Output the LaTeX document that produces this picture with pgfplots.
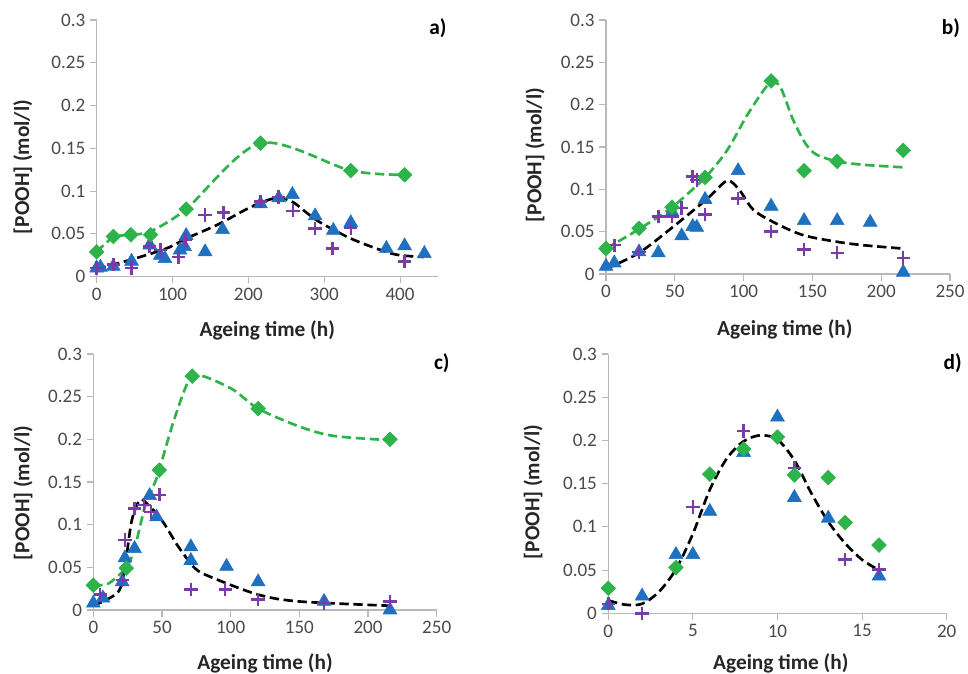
\documentclass[border=0pt]{standalone}
\usepackage{fontspec}
\setmainfont{Carlito}
\usepackage{pgfplots}
\pgfplotsset{compat=1.18}
\definecolor{gr}{HTML}{2DB34A}
\definecolor{bl}{HTML}{1F70C1}
\definecolor{pu}{HTML}{7A3BA8}
\definecolor{axc}{HTML}{B8B8B8}
\definecolor{tl}{HTML}{4A4A4A}
\pgfplotsset{
 panel/.style={
  scale only axis,
  axis x line=bottom, axis y line=left,
  axis line style={axc, line width=1pt, -},
  ymin=0, ymax=0.3, ytick={0,0.05,0.1,0.15,0.2,0.25,0.3},
  tick align=outside, major tick length=5pt, tick style={axc, line width=0.8pt},
  yticklabel style={/pgf/number format/fixed, /pgf/number format/precision=2},
  /pgf/number format/assume math mode=true,
  ticklabel style={font=\fontsize{14.3}{16}\selectfont, text=tl},
  label style={font=\bfseries\fontsize{16}{18}\selectfont, text=black!85},
  xlabel={Ageing time (h)}, ylabel={[POOH] (mol/l)},
  clip=false,
 },
 bluemk/.style={only marks, mark=triangle*, mark size=6pt, color=bl},
 purmk/.style={only marks, mark=+, mark size=5pt, color=pu, mark options={line width=1.9pt}},
 grmk/.style={only marks, mark=square*, mark size=3.9pt, color=gr, mark options={rotate=45}},
 grline/.style={no marks, smooth, gr, line width=2pt, dash pattern=on 7pt off 3.5pt},
 bkline/.style={no marks, smooth, black, line width=2pt, dash pattern=on 7pt off 3.5pt},
}
\begin{document}
\begin{tikzpicture}
\useasboundingbox (0,0) rectangle (726pt,505.5pt);
% ---------------- a)
\begin{axis}[panel, at={(72.5pt,298pt)}, anchor=south west, width=256pt, height=192.5pt,
  xmin=0, xmax=450, xtick={0,100,200,300,400},
  xlabel style={at={(axis description cs:0.5,-0.208)}, anchor=center},
  ylabel style={at={(axis description cs:-0.216,0.427)}, anchor=center}]
\addplot[bluemk] coordinates {(0,0.010)(5,0.011)(22,0.012)(46,0.018)(70,0.037)(84,0.025)(90,0.021)(110,0.031)(116,0.035)(118,0.048)(143,0.029)(166,0.055)(216,0.085)(240,0.092)(258,0.096)(288,0.071)(312,0.054)(335,0.063)(382,0.033)(406,0.036)(432,0.027)};
\addplot[purmk] coordinates {(0,0.010)(22,0.014)(46,0.010)(70,0.035)(84,0.031)(108,0.023)(117,0.043)(143,0.072)(167,0.075)(216,0.088)(240,0.093)(259,0.077)(288,0.056)(311,0.033)(335,0.057)(406,0.018)};
\addplot[grmk] coordinates {(0,0.029)(22,0.047)(45,0.049)(71,0.049)(118,0.079)(216,0.156)(335,0.124)(406,0.119)};
\addplot[grline] coordinates {(0,0.029)(22,0.046)(45,0.049)(71,0.053)(118,0.079)(216,0.156)(335,0.124)(406,0.119)};
\addplot[bkline] coordinates {(0,0.009)(44,0.0195)(92,0.033)(119,0.045)(160,0.061)(200,0.080)(224,0.089)(240,0.092)(259,0.087)(290,0.066)(334,0.045)(378,0.030)(400,0.025)(431,0.023)};
\node[font=\bfseries\fontsize{16}{18}\selectfont] at (axis description cs:1.0,0.968) {a)};
\end{axis}
% ---------------- b)
\begin{axis}[panel, at={(454.5pt,300pt)}, anchor=south west, width=258pt, height=190.5pt,
  xmin=0, xmax=250, xtick={0,50,100,150,200,250},
  xlabel style={at={(axis description cs:0.52,-0.22)}, anchor=center},
  ylabel style={at={(axis description cs:-0.206,0.468)}, anchor=center}]
\addplot[bluemk] coordinates {(0,0.009)(6,0.013)(24,0.026)(38,0.025)(48,0.073)(55,0.045)(63,0.056)(66,0.055)(72,0.088)(96,0.122)(120,0.080)(144,0.063)(168,0.063)(192,0.061)(216,0.002)};
\addplot[purmk] coordinates {(6,0.034)(24,0.026)(38,0.068)(48,0.068)(55,0.078)(63,0.115)(66,0.111)(72,0.070)(96,0.089)(120,0.050)(144,0.029)(168,0.025)(216,0.019)};
\addplot[grmk] coordinates {(0,0.030)(24,0.054)(48,0.079)(72,0.114)(120,0.228)(144,0.122)(168,0.133)(216,0.146)};
\addplot[grline] coordinates {(0,0.030)(24,0.053)(48,0.079)(72,0.114)(88,0.146)(102,0.186)(115,0.218)(121,0.227)(127,0.220)(136,0.182)(145,0.154)(153,0.141)(168,0.133)(187,0.129)(216,0.126)};
\addplot[bkline] coordinates {(0,0.006)(24,0.025)(49,0.056)(73,0.088)(88,0.110)(97,0.099)(107,0.076)(122,0.061)(143,0.046)(168,0.038)(187,0.034)(216,0.030)};
\node[font=\bfseries\fontsize{16}{18}\selectfont] at (axis description cs:1.003,0.967) {b)};
\end{axis}
% ---------------- c)
\begin{axis}[panel, at={(70pt,48pt)}, anchor=south west, width=257.5pt, height=192pt,
  xmin=0, xmax=250, xtick={0,50,100,150,200,250},
  xlabel style={at={(axis description cs:0.5,-0.207)}, anchor=center},
  ylabel style={at={(axis description cs:-0.205,0.457)}, anchor=center}]
\addplot[bluemk] coordinates {(0,0.008)(7,0.014)(21,0.033)(23,0.061)(30,0.072)(41,0.134)(46,0.109)(71,0.074)(71,0.058)(97,0.051)(120,0.033)(168,0.010)(216,0.0)};
\addplot[purmk] coordinates {(5,0.018)(21,0.035)(23,0.082)(30,0.119)(37,0.123)(42,0.115)(48,0.135)(71,0.024)(96,0.024)(120,0.012)(168,0.008)(216,0.010)};
\addplot[grmk] coordinates {(0,0.029)(24,0.049)(48,0.164)(72,0.274)(120,0.236)(216,0.200)};
\addplot[grline] coordinates {(0,0.029)(11,0.031)(24,0.050)(30,0.072)(37.6,0.121)(45,0.150)(48,0.164)(58,0.219)(68,0.264)(74,0.274)(82,0.273)(102,0.258)(120,0.236)(150,0.215)(175,0.204)(216,0.199)};
\addplot[bkline] coordinates {(0,0.005)(18,0.021)(23,0.051)(28,0.105)(34,0.129)(40,0.123)(50,0.105)(62,0.074)(74,0.049)(85,0.039)(120,0.018)(150,0.010)(216,0.005)};
\node[font=\bfseries\fontsize{16}{18}\selectfont] at (axis description cs:1.015,0.964) {c)};
\end{axis}
% ---------------- d)
\begin{axis}[panel, at={(456.2pt,45.5pt)}, anchor=south west, width=253.8pt, height=194.5pt,
  xmin=0, xmax=20, xtick={0,5,10,15,20},
  xlabel style={at={(axis description cs:0.51,-0.193)}, anchor=center},
  ylabel style={at={(axis description cs:-0.2225,0.468)}, anchor=center}]
\addplot[bluemk] coordinates {(0,0.009)(2,0.020)(4,0.068)(5,0.068)(6,0.118)(8,0.186)(10,0.227)(11,0.134)(13,0.110)(16,0.043)};
\addplot[purmk] coordinates {(0,0.011)(2,0.0)(5,0.123)(8,0.211)(11,0.168)(14,0.062)(16,0.051)};
\addplot[grmk] coordinates {(0,0.029)(4,0.053)(6,0.161)(8,0.190)(10,0.204)(11,0.160)(13,0.157)(14,0.105)(16,0.079)};
\addplot[bkline] coordinates {(0,0.015)(1,0.010)(2,0.011)(3,0.025)(4,0.051)(5,0.092)(6,0.143)(7,0.179)(8,0.199)(9,0.206)(10,0.201)(11,0.177)(12,0.139)(13,0.106)(14,0.081)(15,0.062)(16,0.050)};
\node[font=\bfseries\fontsize{16}{18}\selectfont] at (axis description cs:1.018,0.964) {d)};
\end{axis}
\end{tikzpicture}
\end{document}
